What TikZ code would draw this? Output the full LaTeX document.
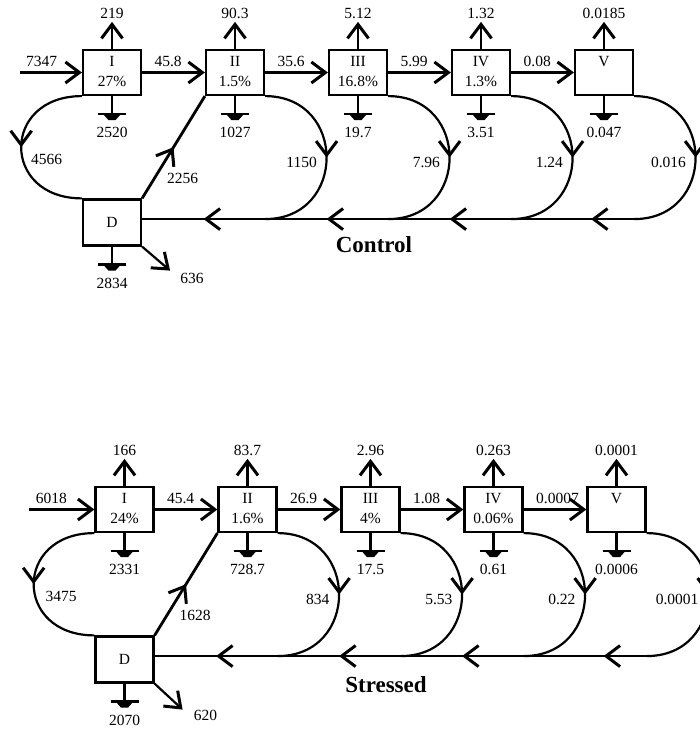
\documentclass[tikz,border=0pt]{standalone}
\usepackage{fontspec}
\setmainfont{Liberation Serif}
\usetikzlibrary{arrows.meta,calc,decorations.markings}

\tikzset{
  >={Straight Barb[length=14pt,width=21pt,line width=3pt 0]},
  flow/.style={line width=2.2pt},
  stage/.style={draw, line width=2.2pt, minimum width=58pt, minimum height=45pt,
    inner sep=0pt, align=center, font=\fontsize{15.5}{19.5}\selectfont},
  val/.style={inner sep=2pt, font=\fontsize{15.5}{18}\selectfont},
  midarrow/.style={postaction={decorate}, decoration={markings,
    mark=at position #1 with {\arrow{>}}}},
  midarrow/.default=0.5,
  title/.style={font=\fontsize{23}{26}\selectfont\bfseries},
  pics/sinkbar/.style={code={
    \draw[line width=2.8pt] (-14,0) -- (14,0);
    \fill (-8,-1) -- (8,-1) -- (3.5,-6) -- (-3.5,-6) -- cycle;
  }},
}

\begin{document}
\begin{tikzpicture}[x=1pt, y=1pt]
  \useasboundingbox (0,0) rectangle (700,731);

  % ---------- Control ----------
  \begin{scope}[shift={(112,658.5)}]
    % stages, outputs, sinks
    \foreach \n/\x/\pct/\up/\gnd in {I/0/27\%/219/2520, II/123/1.5\%/90.3/1027,
        III/246/16.8\%/5.12/19.7, IV/369/1.3\%/1.32/3.51, V/492/{}/0.0185/0.047} {
      \node[stage] (c\n) at (\x,0) {\strut\n\\\strut\pct};
      \draw[flow,->] (c\n.north) -- ++(0,27) node[val,above] (cu\n) {\up};
      \draw[flow] (c\n.south) -- ++(0,-18) coordinate (cg\n) pic{sinkbar};
      \node[val,below=11pt] (cgl\n) at (cg\n) {\gnd};
    }
    \node[stage, minimum height=46pt] (cD) at (0,-150) {D};

    % input and forward flows
    \coordinate (cin) at ($(cI.west)+(-62,0)$);
    \draw[flow,->] (cin) -- (cI.west)
      node[val, pos=0.05, anchor=south west, yshift=3pt] (cinl) {7347};
    \foreach \a/\b/\v in {I/II/45.8, II/III/35.6, III/IV/5.99, IV/V/0.08}
      \draw[flow,->] (c\a.east) -- (c\b.west)
        node[val, pos=0.15, anchor=south west, yshift=3pt] (cf\a) {\v};

    % recycle loops
    \foreach \n/\v in {II/1150, III/7.96, IV/1.24, V/0.016} {
      \coordinate (cr\n) at ($(c\n.south east)+(0,-123)$);
      \draw[flow,midarrow] (c\n.south east) .. controls +(82,0) and +(82,0) .. (cr\n);
      \node[val, anchor=east] (crl\n) at ($(c\n.south east)+(54,-66)$) {\v};
    }
    \draw[flow,midarrow=0.35] (crV) -- (crIV);
    \draw[flow,midarrow] (crIV) -- (crIII);
    \draw[flow,midarrow] (crIII) -- (crII);
    \draw[flow,midarrow] (crII) -- (cD.east |- crII);

    % D
    \draw[flow,midarrow] (cI.south west) .. controls +(-81,0) and +(-81,0) .. (cD.north west);
    \node[val, anchor=west] (cll) at ($(cI.south west)!0.5!(cD.north west)+(-53,-12)$) {4566};
    \draw[flow, line width=2.8pt, midarrow] (cD.north east) -- (cII.south west);
    \node[val, anchor=north west] (cdl) at ($(cD.north east)!0.5!(cII.south west)+(-8.5,-23.5)$) {2256};
    \draw[flow] (cD.south) -- ++(0,-18) coordinate (cgD) pic{sinkbar};
    \node[val, below=11pt] (cglD) at (cgD) {2834};
    \draw[flow,->] (cD.south east) -- ++(28,-24) coordinate (co);
    \node[val, anchor=west] (col) at ($(co)+(8,-8)$) {636};

    \node[title] (ct) at (262,-172.5) {Control};
  \end{scope}

  % ---------- Stressed ----------
  \begin{scope}[shift={(124.5,221.5)}]
    % stages, outputs, sinks
    \foreach \n/\x/\pct/\up/\gnd in {I/0/24\%/166/2331, II/123/1.6\%/83.7/728.7,
        III/246/4\%/2.96/17.5, IV/369/0.06\%/0.263/0.61, V/492/{}/0.0001/0.0006} {
      \node[stage] (s\n) at (\x,0) {\strut\n\\\strut\pct};
      \draw[flow,->] (s\n.north) -- ++(0,27) node[val,above] (su\n) {\up};
      \draw[flow] (s\n.south) -- ++(0,-18) coordinate (sg\n) pic{sinkbar};
      \node[val,below=11pt] (sgl\n) at (sg\n) {\gnd};
    }
    \node[stage, minimum height=46pt] (sD) at (0,-150) {D};

    % input and forward flows
    \coordinate (sin) at ($(sI.west)+(-65,0)$);
    \draw[flow,->] (sin) -- (sI.west)
      node[val, pos=0.05, anchor=south west, yshift=3pt] (sinl) {6018};
    \foreach \a/\b/\v in {I/II/45.4, II/III/26.9, III/IV/1.08, IV/V/0.0007}
      \draw[flow,->] (s\a.east) -- (s\b.west)
        node[val, pos=0.15, anchor=south west, yshift=3pt] (sf\a) {\v};

    % recycle loops
    \foreach \n/\v in {II/834, III/5.53, IV/0.22, V/0.0001} {
      \coordinate (sr\n) at ($(s\n.south east)+(0,-123)$);
      \draw[flow,midarrow] (s\n.south east) .. controls +(82,0) and +(82,0) .. (sr\n);
      \node[val, anchor=east] (srl\n) at ($(s\n.south east)+(54,-66)$) {\v};
    }
    \draw[flow,midarrow=0.35] (srV) -- (srIV);
    \draw[flow,midarrow] (srIV) -- (srIII);
    \draw[flow,midarrow] (srIII) -- (srII);
    \draw[flow,midarrow] (srII) -- (sD.east |- srII);

    % D
    \draw[flow,midarrow] (sI.south west) .. controls +(-81,0) and +(-81,0) .. (sD.north west);
    \node[val, anchor=west] (sll) at ($(sI.south west)!0.5!(sD.north west)+(-51,-12)$) {3475};
    \draw[flow, line width=2.8pt, midarrow] (sD.north east) -- (sII.south west);
    \node[val, anchor=north west] (sdl) at ($(sD.north east)!0.5!(sII.south west)+(-8.5,-23.5)$) {1628};
    \draw[flow] (sD.south) -- ++(0,-18) coordinate (sgD) pic{sinkbar};
    \node[val, below=11pt] (sglD) at (sgD) {2070};
    \draw[flow,->] (sD.south east) -- ++(28,-26) coordinate (so);
    \node[val, anchor=west] (sol) at ($(so)+(9,-6)$) {620};

    \node[title] (st) at (261.5,-175) {Stressed};
  \end{scope}
\end{tikzpicture}
\end{document}
